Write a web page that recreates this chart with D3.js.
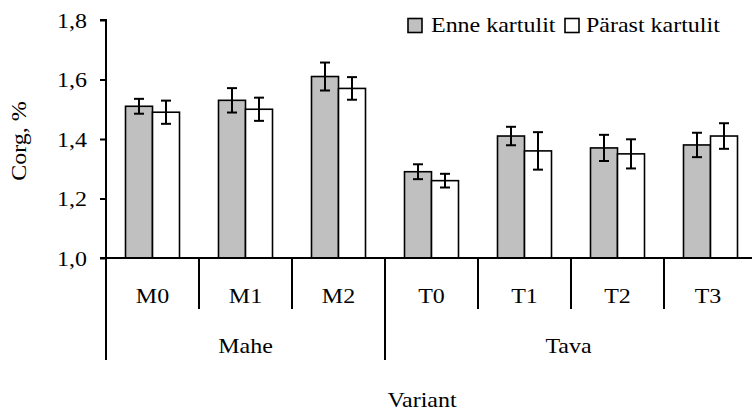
<!DOCTYPE html>
<html>
<head>
<meta charset="utf-8">
<script src="https://cdn.jsdelivr.net/npm/d3@7"></script>
<style>
  html, body { margin: 0; padding: 0; background: #fff; }
  svg { display: block; }
  svg text { font-family: "Liberation Serif", "Times New Roman", Tinos, "DejaVu Serif", serif; fill: #000; }
</style>
</head>
<body>
<svg id="chart" width="752" height="411"></svg>
<script>
// Soil organic carbon by variant, before and after potatoes
const groups = ["Mahe", "Mahe", "Mahe", "Tava", "Tava", "Tava", "Tava"];
const variants = ["M0", "M1", "M2", "T0", "T1", "T2", "T3"];
const seriesNames = ["Enne kartulit", "Pärast kartulit"];
const enne = [1.51, 1.53, 1.61, 1.29, 1.41, 1.37, 1.38];
const enneErr = [0.025, 0.041, 0.047, 0.025, 0.031, 0.044, 0.041];
const parast = [1.49, 1.50, 1.57, 1.26, 1.36, 1.35, 1.41];
const parastErr = [0.039, 0.039, 0.038, 0.023, 0.063, 0.049, 0.043];
const yTicks = [1.0, 1.2, 1.4, 1.6, 1.8];
const tickLabels = ["1,0", "1,2", "1,4", "1,6", "1,8"];
const colors = ["#c0c0c0", "#ffffff"];

const W = 752, H = 411;
const svg = d3.select("#chart");
const fontSize = 22;
const stretch = 1.09; // text is drawn slightly wide

const x = d3.scaleBand().domain(variants).range([106, 757]).padding(0);
const bw = x.bandwidth();
const inner = d3.scaleBand().domain(seriesNames).range([bw / 2 - 27, bw / 2 + 27]).padding(0);
const y = d3.scaleLinear().domain([1.0, 1.8]).range([258, 20]);

const series = [
  { name: seriesNames[0], values: enne, errs: enneErr, color: colors[0] },
  { name: seriesNames[1], values: parast, errs: parastErr, color: colors[1] }
];

// places a text element at (tx, ty), widened horizontally
function label(parent, tx, ty, str, anchor, rotate) {
  return parent.append("text")
    .attr("transform", `translate(${tx},${ty})` + (rotate ? ` rotate(${rotate})` : "") + ` scale(${stretch},1)`)
    .attr("text-anchor", anchor || "start")
    .attr("font-size", fontSize)
    .text(str);
}

// bars
series.forEach(s => {
  const g = svg.append("g");
  g.selectAll("rect").data(variants).join("rect")
    .attr("x", (d) => x(d) + inner(s.name))
    .attr("y", (d, i) => y(s.values[i]))
    .attr("width", inner.bandwidth())
    .attr("height", (d, i) => y(1.0) - y(s.values[i]))
    .attr("fill", s.color)
    .attr("stroke", "#000")
    .attr("stroke-width", 1.6);
});

// error bars
series.forEach(s => {
  const g = svg.append("g").attr("stroke", "#000").attr("stroke-width", 2);
  variants.forEach((v, i) => {
    const cx = x(v) + inner(s.name) + inner.bandwidth() / 2;
    const hi = y(s.values[i] + s.errs[i]);
    const lo = y(s.values[i] - s.errs[i]);
    g.append("line").attr("x1", cx).attr("x2", cx).attr("y1", hi).attr("y2", lo);
    g.append("line").attr("x1", cx - 5).attr("x2", cx + 5).attr("y1", hi).attr("y2", hi);
    g.append("line").attr("x1", cx - 5).attr("x2", cx + 5).attr("y1", lo).attr("y2", lo);
  });
});

// y axis
const yAxis = d3.axisLeft(y).tickValues(yTicks).tickSize(6).tickFormat(() => "");
const yg = svg.append("g").attr("transform", "translate(106,0)").call(yAxis);
yg.select(".domain").attr("stroke", "#000").attr("stroke-width", 2).attr("d", `M-6,${y(1.8)}H0V${y(1.0)}`);
yg.selectAll(".tick line").attr("stroke", "#000").attr("stroke-width", 2);
yg.selectAll(".tick text").remove();
yTicks.forEach((t, i) => label(svg, 87, y(t) + 7.5, tickLabels[i], "end"));

// category axis baseline
svg.append("line").attr("x1", 100).attr("x2", W).attr("y1", y(1.0)).attr("y2", y(1.0))
  .attr("stroke", "#000").attr("stroke-width", 2);

// separators between variants and groups
const bounds = variants.map(v => x(v)).concat([x.range()[1]]);
bounds.forEach((bx, i) => {
  const isGroupEdge = i === 0 || i === variants.length || groups[i] !== groups[i - 1];
  if (bx > W) return;
  svg.append("line").attr("x1", bx).attr("x2", bx)
    .attr("y1", y(1.0)).attr("y2", isGroupEdge ? 360 : 309)
    .attr("stroke", "#000").attr("stroke-width", 2);
});

// variant labels
variants.forEach(v => label(svg, (x(v) + Math.min(x(v) + bw, W)) / 2, 303, v, "middle"));

// group labels
const groupNames = Array.from(new Set(groups));
groupNames.forEach(gn => {
  const members = variants.filter((v, i) => groups[i] === gn);
  const x0 = x(members[0]);
  const x1 = Math.min(x(members[members.length - 1]) + bw, W);
  label(svg, (x0 + x1) / 2, 353, gn, "middle");
});

// axis titles
label(svg, 422, 407, "Variant", "middle");
label(svg, 26, 141, "Corg, %", "middle", -90);

// legend
const legendItems = [
  { name: seriesNames[0], color: colors[0], bx: 408, tx: 431 },
  { name: seriesNames[1], color: colors[1], bx: 565, tx: 586 }
];
legendItems.forEach(it => {
  svg.append("rect").attr("x", it.bx).attr("y", 18.5).attr("width", 14).attr("height", 14)
    .attr("fill", it.color).attr("stroke", "#000").attr("stroke-width", 1.6);
  label(svg, it.tx, 32, it.name, "start");
});
</script>
</body>
</html>
